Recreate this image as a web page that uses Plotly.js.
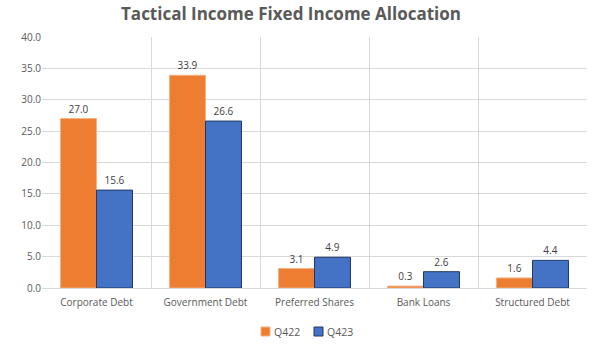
<!DOCTYPE html>
<html><head><meta charset="utf-8">
<script src="https://cdn.plot.ly/plotly-3.0.1.min.js"></script>
<style>body{margin:0;background:#fff}#c{width:600px;height:352px}</style>
</head><body><div id="c"></div>
<script>
var categories = ["Corporate Debt","Government Debt","Preferred Shares","Bank Loans","Structured Debt"];
var seriesNames = ["Q422", "Q423"];
var q422 = [27.0, 33.9, 3.1, 0.3, 1.6];
var q423 = [15.6, 26.6, 4.9, 2.6, 4.4];
var yTicks = [0,5,10,15,20,25,30,35,40];

var colors = ["#ED7D31", "#4472C4"];
var edges = ["#F4B183", "#203864"];
var font = {family:"Open Sans, Liberation Sans, sans-serif", size:10, color:"#595959"};
var series = [q422, q423];
var traces = series.map(function(vals, i){
  return {type:"bar", name:seriesNames[i], x:categories, y:vals,
    text:vals.map(function(v){return v.toFixed(1);}),
    textposition:"outside", cliponaxis:false, textfont:{size:10,color:"#404040"},
    marker:{color:colors[i], line:{color:edges[i], width:1}}};
});

// plot area in pixels: left 42, right 587, top 37, bottom 288
var L = 42, W = 545, B = 288, H = 251;
function px(x){ return (x - L) / W; }
function py(y){ return (B - y) / H; }
var legendX = [261, 314];  // marker left edges (px)
var shapes = [], annotations = [];
seriesNames.forEach(function(n, i){
  shapes.push({type:"rect", xref:"paper", yref:"paper", x0:px(legendX[i]), x1:px(legendX[i]+9),
    y0:py(336), y1:py(327), fillcolor:colors[i], line:{color:edges[i], width:1}});
  annotations.push({xref:"paper", yref:"paper", x:px(legendX[i]+11), y:py(331.5), xanchor:"left", yanchor:"middle",
    text:n, showarrow:false, font:{size:10.5, color:"#595959"}});
});

var layout = {
  width:600, height:352, paper_bgcolor:"#fff", plot_bgcolor:"#fff",
  margin:{l:42, r:13, t:37, b:64, autoexpand:false},
  font:font,
  title:{text:"<b>Tactical Income Fixed Income Allocation</b>", x:0.485, xanchor:"center", y:0.96, yanchor:"middle",
         font:{family:"Open Sans, sans-serif", size:17, color:"#595959"}},
  bargap:0.34, bargroupgap:0,
  xaxis:{tickson:"boundaries", showgrid:true, gridcolor:"#d9d9d9", gridwidth:1, ticks:"", showline:true, linecolor:"#d9d9d9",
         ticklabelstandoff:5, tickfont:{size:10,color:"#595959"}},
  yaxis:{range:[0,40], tickvals:yTicks, ticktext:yTicks.map(function(v){return v.toFixed(1);}),
         gridcolor:"#d9d9d9", zeroline:false, showline:false, ticks:"", tickfont:{size:10,color:"#595959"}},
  showlegend:false,
  shapes:shapes, annotations:annotations
};
Plotly.newPlot("c", traces, layout, {displayModeBar:false, staticPlot:true});
</script></body></html>
